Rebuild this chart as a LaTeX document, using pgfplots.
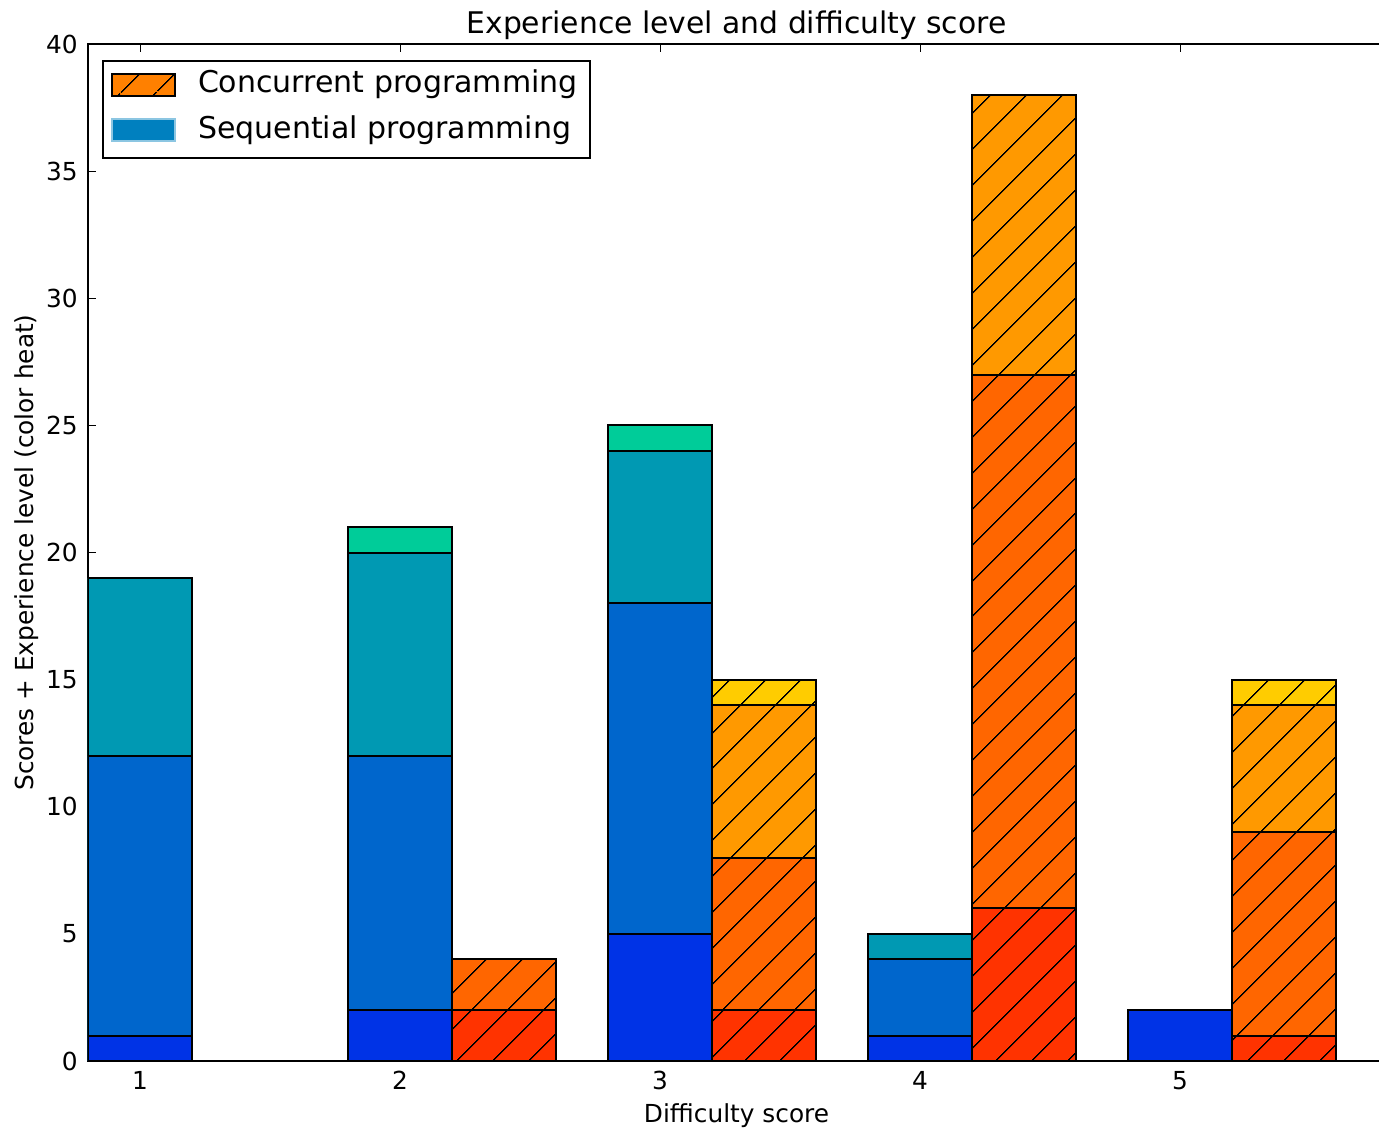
\documentclass[border=0pt]{standalone}
\usepackage{fontspec}
\setmainfont{DejaVu Sans}
\usepackage{pgfplots}
\pgfplotsset{compat=1.18}
\usetikzlibrary{patterns.meta}
\definecolor{s1}{HTML}{0033E6}
\definecolor{s2}{HTML}{0066CC}
\definecolor{s3}{HTML}{0099B3}
\definecolor{s4}{HTML}{00CC99}
\definecolor{c1}{HTML}{FF3300}
\definecolor{c2}{HTML}{FF6600}
\definecolor{c3}{HTML}{FF9900}
\definecolor{c4}{HTML}{FFCC00}
\definecolor{lc}{HTML}{FF8000}
\definecolor{ls}{HTML}{0080BF}
\tikzset{hatch/.style={preaction={fill=#1},
  pattern={Lines[angle=45,distance=13pt,line width=0.7pt]}, pattern color=black}}
\pgfplotsset{
  segbar/.style={ybar, bar width=0.4, bar shift=0, draw=black, line width=1pt, fill=#1, forget plot},
}
\begin{document}
\begin{tikzpicture}
\begin{axis}[
  scale only axis,
  width=648.5pt, height=508.5pt,
  xmin=0.8, xmax=5.788, ymin=0, ymax=40,
  xtick={1,2,3,4,5}, ytick={0,5,...,40},
  ytick pos=left,
  tick align=inside,
  major tick length=4pt,
  every tick/.style={black, line width=0.5pt},
  axis line style={line width=1pt},
  /pgf/number format/assume math mode=true,
  tick label style={font=\fontsize{12.4pt}{14pt}\selectfont},
  xticklabel style={anchor=base, yshift=-14pt},
  yticklabel style={inner sep=0pt, xshift=-5pt},
  label style={font=\fontsize{12.4pt}{14pt}\selectfont},
  xlabel={Difficulty score},
  ylabel={Scores + Experience level (color heat)},
  xlabel style={at={(axis description cs:0.5,0)}, anchor=base, yshift=-30.5pt},
  ylabel style={at={(axis description cs:-0.0424,0.5)}, anchor=base},
  title={Experience level and difficulty score},
  title style={at={(axis description cs:0.5,1)}, anchor=base, yshift=-1pt, font=\fontsize{14.9pt}{17pt}\selectfont},
  legend cell align=left,
  legend style={at={(axis description cs:0,1)}, anchor=north west, xshift=7pt, yshift=-8pt,
    draw=black, line width=1pt, inner xsep=4pt, inner ysep=3pt,
    font=\fontsize{15pt}{17pt}\selectfont,
    nodes={inner xsep=2pt, inner ysep=2pt, text height=11pt, text depth=5pt},
    row sep=2.5pt, column sep=9pt},
]
\coordinate (O) at (rel axis cs:0,0);
\addlegendimage{legend image code/.code={\draw[draw=black, line width=1pt, hatch=lc] (0pt,-4.5pt) rectangle (31.5pt,6.5pt);}}
\addlegendentry{Concurrent programming}
\addlegendimage{legend image code/.code={\draw[fill=ls, draw=ls!45, line width=1pt] (0pt,-4.5pt) rectangle (31.5pt,6.5pt);}}
\addlegendentry{Sequential programming}
% Sequential programming (cumulative tops, drawn top level first)
\addplot[segbar=s4] coordinates {(1,19) (2,21) (3,25) (4,5) (5,2)};
\addplot[segbar=s3] coordinates {(1,19) (2,20) (3,24) (4,5) (5,2)};
\addplot[segbar=s2] coordinates {(1,12) (2,12) (3,18) (4,4) (5,2)};
\addplot[segbar=s1] coordinates {(1,1) (2,2) (3,5) (4,1) (5,2)};
% Concurrent programming
\addplot[segbar=c4, hatch=c4] coordinates {(1.4,0) (2.4,4) (3.4,15) (4.4,38) (5.4,15)};
\addplot[segbar=c3, hatch=c3] coordinates {(1.4,0) (2.4,4) (3.4,14) (4.4,38) (5.4,14)};
\addplot[segbar=c2, hatch=c2] coordinates {(1.4,0) (2.4,4) (3.4,8) (4.4,27) (5.4,9)};
\addplot[segbar=c1, hatch=c1] coordinates {(1.4,0) (2.4,2) (3.4,2) (4.4,6) (5.4,1)};
% zero-height concurrent bar at difficulty 1
\addplot[black, line width=1.4pt, forget plot] coordinates {(1.2,0) (1.6,0)};
\end{axis}
\pgfresetboundingbox
\useasboundingbox ([shift={(-44pt,-34.5pt)}]O) rectangle ([shift={(645.5pt,530.5pt)}]O);
\end{tikzpicture}
\end{document}
